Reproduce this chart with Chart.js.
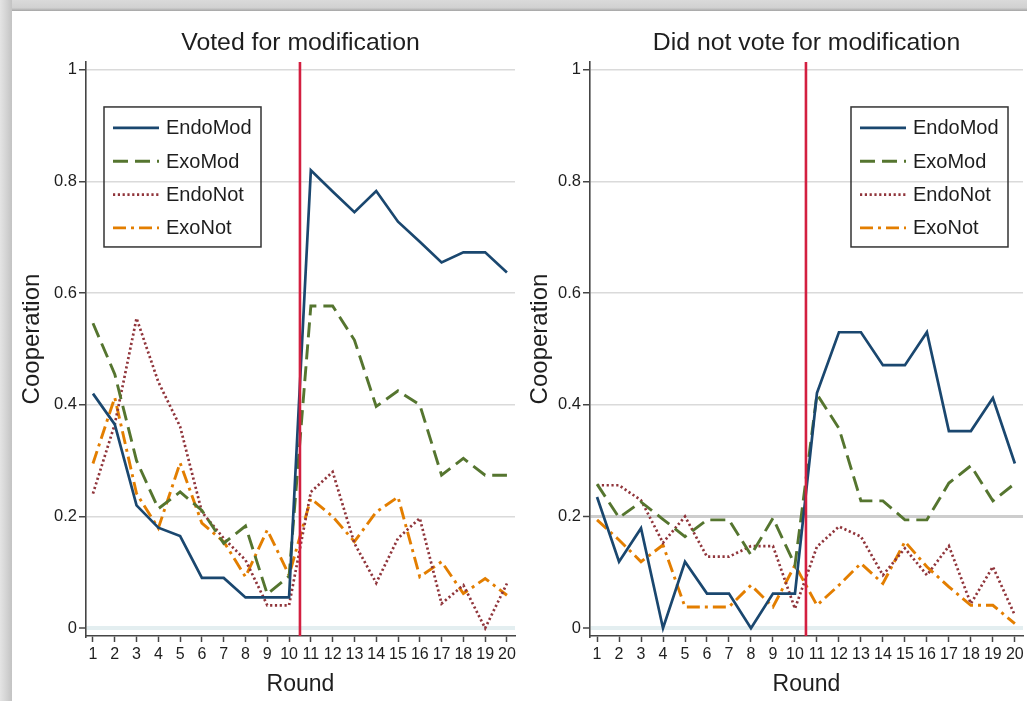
<!DOCTYPE html>
<html>
<head>
<meta charset="utf-8">
<title>Cooperation by round</title>
<script src="https://cdn.jsdelivr.net/npm/chart.js@4.4.1/dist/chart.umd.min.js"></script>
<style>
  html, body { margin: 0; padding: 0; background: #ffffff; }
  body { width: 1027px; height: 701px; position: relative; overflow: hidden; }
  #frameTop { position: absolute; left: 0; top: 0; width: 1027px; height: 11px;
    background: linear-gradient(to bottom, #dadada 0%, #d1d1d1 70%, #a5a5a5 100%); }
  #frameLeft { position: absolute; left: 0; top: 0; width: 12px; height: 701px;
    background: linear-gradient(to right, #e4e4e4 0%, #d4d4d4 50%, #c3c3c3 100%); }
  .panel { position: absolute; top: 0; height: 701px; }
  #panelVoted { left: 0; width: 520px; }
  #panelNotVoted { left: 505px; width: 522px; }
</style>
</head>
<body>
<div id="frameTop"></div>
<div id="frameLeft"></div>
<div class="panel" id="panelVoted"><canvas id="chartVoted" width="520" height="701"></canvas></div>
<div class="panel" id="panelNotVoted"><canvas id="chartNotVoted" width="522" height="701"></canvas></div>

<script>
// ---- data ----
const rounds = [1, 2, 3, 4, 5, 6, 7, 8, 9, 10, 11, 12, 13, 14, 15, 16, 17, 18, 19, 20];
const roundLabels = ['1', '2', '3', '4', '5', '6', '7', '8', '9', '10',
                     '11', '12', '13', '14', '15', '16', '17', '18', '19', '20'];
const yTicks = [0, 0.2, 0.4, 0.6, 0.8, 1];
const yTickLabels = ['0', '0.2', '0.4', '0.6', '0.8', '1'];
const seriesNames = ['EndoMod', 'ExoMod', 'EndoNot', 'ExoNot'];
const panelTitles = ['Voted for modification', 'Did not vote for modification'];
const xAxisTitle = 'Round';
const yAxisTitle = 'Cooperation';
const modificationRound = 10.5;

// Voted for modification
const votedEndoMod = [0.42, 0.365, 0.22, 0.18, 0.165, 0.09, 0.09, 0.055, 0.055, 0.055,
                      0.82, 0.782, 0.745, 0.783, 0.728, 0.692, 0.655, 0.673, 0.673, 0.637];
const votedExoMod  = [0.546, 0.455, 0.30, 0.214, 0.244, 0.211, 0.152, 0.183, 0.061, 0.093,
                      0.577, 0.577, 0.516, 0.397, 0.425, 0.40, 0.274, 0.304, 0.274, 0.274];
const votedEndoNot = [0.241, 0.365, 0.555, 0.441, 0.361, 0.208, 0.161, 0.122, 0.041, 0.041,
                      0.244, 0.28, 0.152, 0.081, 0.161, 0.197, 0.044, 0.077, 0.0, 0.080];
const votedExoNot  = [0.295, 0.413, 0.241, 0.179, 0.296, 0.188, 0.155, 0.092, 0.176, 0.095,
                      0.232, 0.20, 0.155, 0.208, 0.235, 0.092, 0.119, 0.062, 0.089, 0.059];

// Did not vote for modification
const notVotedEndoMod = [0.235, 0.119, 0.179, 0.0, 0.119, 0.062, 0.062, 0.0, 0.062, 0.062,
                         0.421, 0.53, 0.53, 0.471, 0.471, 0.53, 0.353, 0.353, 0.412, 0.295];
const notVotedExoMod  = [0.258, 0.198, 0.226, 0.195, 0.164, 0.194, 0.194, 0.131, 0.197, 0.113,
                         0.419, 0.358, 0.228, 0.228, 0.194, 0.194, 0.26, 0.291, 0.228, 0.259];
const notVotedEndoNot = [0.256, 0.256, 0.229, 0.153, 0.20, 0.128, 0.128, 0.147, 0.147, 0.035,
                         0.146, 0.182, 0.164, 0.095, 0.143, 0.095, 0.147, 0.044, 0.11, 0.023];
const notVotedExoNot  = [0.194, 0.158, 0.119, 0.149, 0.038, 0.038, 0.038, 0.077, 0.038, 0.113,
                         0.041, 0.077, 0.116, 0.08, 0.155, 0.11, 0.074, 0.041, 0.041, 0.008];

// ---- styles ----
const FONT = "'Liberation Sans', Arial, Helvetica, sans-serif";
const TEXT = '#1e1e1e';
const AXIS = '#454545';
const seriesStyle = [
  { color: '#1a476f', width: 2.7, dash: [] },
  { color: '#55752f', width: 2.9, dash: [15, 7] },
  { color: '#90353b', width: 2.7, dash: [2.2, 2.6] },
  { color: '#e37e00', width: 2.9, dash: [13, 5, 3, 5] }
];

Chart.defaults.font.family = FONT;

// vertical marker at the round where the modification took effect
const modificationLine = {
  id: 'modificationLine',
  afterDatasetsDraw(chart, args, opts) {
    const { ctx, chartArea, scales } = chart;
    const x = scales.x.getPixelForValue(opts.value);
    ctx.save();
    ctx.strokeStyle = opts.color;
    ctx.lineWidth = opts.width;
    ctx.beginPath();
    ctx.moveTo(x, chartArea.top);
    ctx.lineTo(x, chartArea.bottom);
    ctx.stroke();
    ctx.restore();
  }
};

// rotated y-axis title, centred a little above the middle of the plot
const sideTitle = {
  id: 'sideTitle',
  afterDraw(chart, args, opts) {
    const { ctx } = chart;
    ctx.save();
    ctx.translate(opts.x, opts.y);
    ctx.rotate(-Math.PI / 2);
    ctx.fillStyle = TEXT;
    ctx.font = opts.size + 'px ' + FONT;
    ctx.textAlign = 'center';
    ctx.textBaseline = 'middle';
    ctx.fillText(opts.text, 0, 0);
    ctx.restore();
  }
};

// framed legend drawn inside the plot region
const insetLegend = {
  id: 'insetLegend',
  afterDraw(chart, args, opts) {
    const { ctx, chartArea } = chart;
    const x0 = opts.side === 'left'
      ? chartArea.left + opts.inset
      : chartArea.right - opts.inset - opts.boxWidth;
    const y0 = chartArea.top + opts.top;
    ctx.save();
    ctx.strokeStyle = '#333333';
    ctx.lineWidth = 1.5;
    ctx.strokeRect(x0, y0, opts.boxWidth, opts.boxHeight);
    chart.data.datasets.forEach((ds, i) => {
      const y = y0 + opts.firstRow + i * opts.rowGap;
      ctx.strokeStyle = ds.borderColor;
      ctx.lineWidth = ds.borderWidth;
      ctx.setLineDash(ds.borderDash || []);
      ctx.beginPath();
      ctx.moveTo(x0 + 9, y);
      ctx.lineTo(x0 + 55, y);
      ctx.stroke();
      ctx.setLineDash([]);
      ctx.fillStyle = TEXT;
      ctx.font = '20px ' + FONT;
      ctx.textAlign = 'left';
      ctx.textBaseline = 'middle';
      ctx.fillText(ds.label, x0 + 62, y + 1);
    });
    ctx.restore();
  }
};

function buildPanel(canvasId, title, values, cfg) {
  const datasets = seriesNames.map((name, i) => ({
    label: name,
    data: rounds.map((r, k) => ({ x: r, y: values[i][k] })),
    borderColor: seriesStyle[i].color,
    borderWidth: seriesStyle[i].width,
    borderDash: seriesStyle[i].dash,
    borderCapStyle: 'butt',
    borderJoinStyle: 'miter',
    pointRadius: 0,
    tension: 0,
    fill: false
  }));

  return new Chart(document.getElementById(canvasId), {
    type: 'line',
    data: { datasets },
    plugins: [modificationLine, insetLegend, sideTitle],
    options: {
      responsive: false,
      animation: false,
      events: [],
      layout: { padding: { left: 0, right: cfg.rightPad, top: 0, bottom: 0 } },
      plugins: {
        legend: { display: false },
        tooltip: { enabled: false },
        title: {
          display: true,
          fullSize: false,
          text: title,
          color: TEXT,
          font: { size: 24.8, weight: 'normal', lineHeight: 1.2 },
          padding: { top: 28.1, bottom: 4.1 }
        },
        modificationLine: { value: modificationRound, color: '#d31f40', width: 2.6 },
        sideTitle: { text: yAxisTitle, x: cfg.titleX, y: 339, size: 24 },
        insetLegend: {
          side: cfg.legendSide, inset: cfg.legendInset, top: 45,
          boxWidth: 157, boxHeight: 140, firstRow: 21, rowGap: 33.3
        }
      },
      scales: {
        x: {
          type: 'linear',
          min: 0.68,
          max: 20.37,
          afterBuildTicks: (s) => { s.ticks = rounds.map(v => ({ value: v })); },
          afterFit: (s) => { s.height = 65; },
          ticks: {
            color: TEXT,
            padding: 3,
            maxRotation: 0,
            autoSkip: false,
            font: { size: 16 },
            callback: (v) => roundLabels[rounds.indexOf(v)]
          },
          grid: {
            display: true,
            drawOnChartArea: false,
            drawTicks: true,
            tickLength: 6,
            tickColor: AXIS,
            tickWidth: 1.5
          },
          border: { display: true, color: AXIS, width: 1.6 },
          title: {
            display: true,
            text: xAxisTitle,
            color: TEXT,
            font: { size: 23, lineHeight: 1.2 },
            padding: { top: 0, bottom: 2.2 }
          }
        },
        y: {
          type: 'linear',
          min: -0.014,
          max: 1.014,
          afterBuildTicks: (s) => { s.ticks = yTicks.map(v => ({ value: v })); },
          afterFit: (s) => { s.width = cfg.axisWidth; },
          ticks: {
            color: TEXT,
            padding: 2,
            font: { size: 16.5 },
            callback: (v) => yTickLabels[yTicks.indexOf(v)]
          },
          grid: {
            drawTicks: true,
            tickLength: 7,
            tickColor: AXIS,
            tickWidth: 1.5,
            color: (c) => {
              const v = c.tick ? c.tick.value : null;
              if (v === 0) return '#e3eef0';
              if (cfg.strongTick !== null && v === cfg.strongTick) return '#cdcdcd';
              return '#dadada';
            },
            lineWidth: (c) => {
              const v = c.tick ? c.tick.value : null;
              if (v === 0) return 4;
              if (cfg.strongTick !== null && v === cfg.strongTick) return 3;
              return 1.5;
            }
          },
          border: { display: true, color: AXIS, width: 1.6 },
          title: { display: false }
        }
      }
    }
  });
}

buildPanel('chartVoted', panelTitles[0],
  [votedEndoMod, votedExoMod, votedEndoNot, votedExoNot],
  { axisWidth: 86, titleX: 32, rightPad: 5, legendSide: 'left', legendInset: 18, strongTick: null });

buildPanel('chartNotVoted', panelTitles[1],
  [notVotedEndoMod, notVotedExoMod, notVotedEndoNot, notVotedExoNot],
  { axisWidth: 85, titleX: 35, rightPad: 4, legendSide: 'right', legendInset: 15, strongTick: 0.2 });
</script>
</body>
</html>
